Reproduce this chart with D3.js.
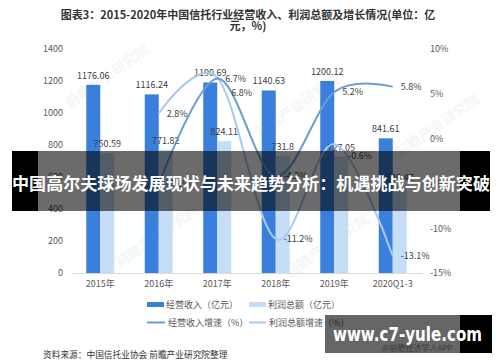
<!DOCTYPE html>
<html>
<head>
<meta charset="utf-8">
<script src="https://cdn.jsdelivr.net/npm/d3@7"></script>
<style>
  body { margin: 0; background: #fff; }
  svg { display: block; font-family: "Noto Sans CJK SC", "Noto Sans", sans-serif; }
</style>
</head>
<body>
<div id="chart"></div>
<script>
const categories = ['2015年', '2016年', '2017年', '2018年', '2019年', '2020Q1-3'];
const revenue = [1176.06, 1116.24, 1190.69, 1140.63, 1200.12, 841.61];
const profit = [750.59, 771.82, 824.11, 731.8, 727.05, 540.47];
const revenueGrowth = [null, -5.1, 6.7, -4.2, 5.2, 5.8];
const profitGrowth = [null, 2.8, 6.8, -11.2, -0.6, -13.1];
const leftTicks = [0, 200, 400, 600, 800, 1000, 1200, 1400];
const rightTicks = [-15, -10, -5, 0, 5, 10];

const width = 500, height = 362;
const revColor = '#3b7fdc', proColor = '#c6ddf6';
const revLine = '#6b9cd6', proLine = '#a9c9ee';
const tickColor = '#595959';

const svg = d3.select('#chart').append('svg')
    .attr('width', width)
    .attr('height', height);

// title
svg.append('text')
    .attr('x', 248).attr('y', 19)
    .attr('text-anchor', 'middle')
    .attr('font-size', 11).attr('font-weight', 'bold').attr('fill', '#333')
    .text('图表3：2015-2020年中国信托行业经营收入、利润总额及增长情况(单位：亿');
svg.append('text')
    .attr('x', 248).attr('y', 30)
    .attr('text-anchor', 'middle')
    .attr('font-size', 11).attr('font-weight', 'bold').attr('fill', '#333')
    .text('元，%)');

// scales
const x = d3.scaleBand().domain(categories).range([71, 422]);
const sub = d3.scaleBand().domain(['rev', 'pro']).range([0, 28]);
const yL = d3.scaleLinear().domain([0, 1400]).range([273, 49]);
const yR = d3.scaleLinear().domain([-15, 10]).range([273, 49]);
const cx = c => x(c) + x.bandwidth() / 2;

// faint watermarks
[[110, 80], [300, 110], [160, 240], [330, 250], [440, 130]].forEach(p => {
    svg.append('text')
        .attr('transform', `translate(${p[0]},${p[1]}) rotate(-35)`)
        .attr('text-anchor', 'middle')
        .attr('font-size', 14).attr('font-weight', 'bold')
        .attr('fill', '#000').attr('opacity', 0.035)
        .text('前瞻产业研究院');
});

// axes
const axL = svg.append('g')
    .attr('transform', 'translate(71,0)')
    .call(d3.axisLeft(yL).tickValues(leftTicks).tickSize(0).tickPadding(8).tickFormat(d => d));
axL.select('.domain').remove();

const axR = svg.append('g')
    .attr('transform', 'translate(422,0)')
    .call(d3.axisRight(yR).tickValues(rightTicks).tickSize(0).tickPadding(8).tickFormat(d => d + '%'));
axR.select('.domain').remove();

const axB = svg.append('g')
    .attr('transform', 'translate(0,273)')
    .call(d3.axisBottom(x).tickSize(0).tickPadding(8));
axB.select('.domain').attr('stroke', '#d9d9d9');

svg.selectAll('.tick text')
    .attr('font-size', 9).attr('fill', tickColor)
    .attr('font-family', '"Noto Sans CJK SC", sans-serif');

// bars
const bars = svg.append('g');
bars.selectAll('.rev').data(categories).enter().append('rect')
    .attr('x', (d) => cx(d) - 14 + sub('rev'))
    .attr('y', (d, i) => yL(revenue[i]))
    .attr('width', sub.bandwidth())
    .attr('height', (d, i) => yL(0) - yL(revenue[i]))
    .attr('fill', revColor);
bars.selectAll('.pro').data(categories).enter().append('rect')
    .attr('x', (d) => cx(d) - 14 + sub('pro'))
    .attr('y', (d, i) => yL(profit[i]))
    .attr('width', sub.bandwidth())
    .attr('height', (d, i) => yL(0) - yL(profit[i]))
    .attr('fill', proColor);

// bar labels
const labelFont = 9, labelColor = '#404040';
categories.forEach((c, i) => {
    svg.append('text')
        .attr('x', cx(c) - 14 + sub('rev') + 7).attr('y', yL(revenue[i]) - 6)
        .attr('text-anchor', 'middle')
        .attr('font-size', labelFont).attr('fill', labelColor)
        .text(revenue[i]);
    svg.append('text')
        .attr('x', cx(c) - 14 + sub('pro') + 7).attr('y', yL(profit[i]) - 6)
        .attr('text-anchor', 'middle')
        .attr('font-size', labelFont).attr('fill', labelColor)
        .text(profit[i]);
});

// growth lines
const line = d3.line()
    .x(d => cx(d[0]))
    .y(d => yR(d[1]))
    .curve(d3.curveCatmullRom.alpha(0));

const revPts = categories.map((c, i) => [c, revenueGrowth[i]]).filter(d => d[1] !== null);
const proPts = categories.map((c, i) => [c, profitGrowth[i]]).filter(d => d[1] !== null);

svg.append('path').datum(proPts)
    .attr('d', line).attr('fill', 'none')
    .attr('stroke', proLine).attr('stroke-width', 2);
svg.append('path').datum(revPts)
    .attr('d', line).attr('fill', 'none')
    .attr('stroke', revLine).attr('stroke-width', 2);

// growth labels
const proDy = { 2: 15, 4: 12 };
revPts.forEach(d => {
    svg.append('text')
        .attr('x', cx(d[0]) + 8).attr('y', yR(d[1]) + 3)
        .attr('font-size', labelFont).attr('fill', labelColor)
        .text(d[1] + '%');
});
proPts.forEach(d => {
    const i = categories.indexOf(d[0]);
    svg.append('text')
        .attr('x', cx(d[0]) + (proDy[i] ? 14 : 8)).attr('y', yR(d[1]) + 3 + (proDy[i] || 0))
        .attr('font-size', labelFont).attr('fill', labelColor)
        .text(d[1] + '%');
});

// legend
const legend = svg.append('g').attr('font-size', 9).attr('fill', tickColor);
legend.append('rect').attr('x', 147).attr('y', 302).attr('width', 17).attr('height', 5).attr('fill', revColor);
legend.append('text').attr('x', 166).attr('y', 308).text('经营收入（亿元）');
legend.append('rect').attr('x', 249).attr('y', 302).attr('width', 17).attr('height', 5).attr('fill', proColor);
legend.append('text').attr('x', 268).attr('y', 308).text('利润总额（亿元）');
legend.append('line').attr('x1', 147).attr('x2', 165).attr('y1', 322.5).attr('y2', 322.5)
    .attr('stroke', revLine).attr('stroke-width', 2);
legend.append('text').attr('x', 168).attr('y', 326).text('经营收入增速（%）');
legend.append('line').attr('x1', 249).attr('x2', 266).attr('y1', 322.5).attr('y2', 322.5)
    .attr('stroke', proLine).attr('stroke-width', 2);
legend.append('text').attr('x', 269).attr('y', 326).text('利润总额增速（%）');

// source
svg.append('text')
    .attr('x', 43).attr('y', 358)
    .attr('font-size', 8.7).attr('fill', '#333')
    .text('资料来源：中国信托业协会 前瞻产业研究院整理');

// banner overlay
svg.append('rect').attr('x', 12).attr('y', 151).attr('width', 26).attr('height', 60).attr('fill', '#000');
svg.append('rect').attr('x', 38).attr('y', 151).attr('width', 422).attr('height', 60).attr('fill', 'rgba(0,0,0,0.58)');
svg.append('rect').attr('x', 460).attr('y', 151).attr('width', 30).attr('height', 60).attr('fill', '#000');
svg.append('text')
    .attr('x', 12).attr('y', 190)
    .attr('font-size', 16.5).attr('font-weight', 'bold').attr('fill', '#fff')
    .attr('textLength', 478).attr('lengthAdjust', 'spacingAndGlyphs')
    .text('中国高尔夫球场发展现状与未来趋势分析：机遇挑战与创新突破');

// site watermark box
svg.append('rect').attr('x', 325).attr('y', 315).attr('width', 135).attr('height', 38).attr('fill', 'rgba(0,0,0,0.6)');
svg.append('rect').attr('x', 460).attr('y', 315).attr('width', 32).attr('height', 38).attr('fill', '#000');
svg.append('text')
    .attr('x', 382).attr('y', 351)
    .attr('font-size', 8).attr('fill', '#3a3a3a')
    .text('@前瞻经济学人APP');
svg.append('text')
    .attr('x', 333).attr('y', 341)
    .attr('font-size', 19).attr('font-weight', 'bold').attr('fill', '#fff')
    .attr('font-family', '"DejaVu Sans", sans-serif')
    .attr('textLength', 149).attr('lengthAdjust', 'spacingAndGlyphs')
    .text('www.c7-yule.com');
</script>
</body>
</html>
